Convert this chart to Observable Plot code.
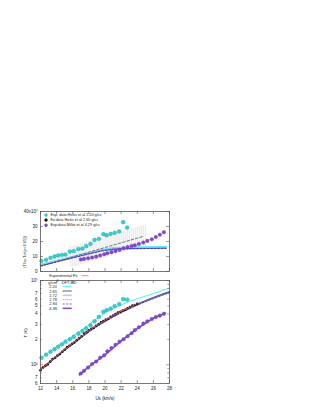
<!DOCTYPE html>
<html><head><meta charset="utf-8">
<script src="https://cdn.jsdelivr.net/npm/d3@7"></script>
<script src="https://cdn.jsdelivr.net/npm/@observablehq/plot@0.6"></script>
<style>
body{margin:0;background:#fff;}
#wrap{position:relative;width:314px;height:407px;overflow:hidden;}
#wrap svg{position:absolute;left:0;}
</style></head><body><div id="wrap"></div>
<script>
// ---------- data ----------
const xTicks = [12,14,16,18,20,22,24,26,28];
const topYTicks = [0,10,20,30,40];
const topYLabels = ["0","10","20","30","40x10³"];
const botYTicks = [60,70,80,90,100,200,300,400,500,600,700,800,900,1000];
const botYLabels = ["6","7","8","9","10²","2","3","4","5","6","7","8","9","10³"];
const botYMajor = [100,1000];

// Hicks et al 2.20 g/cc
const us220 = [12.12,12.7,13.24,13.74,14.19,14.65,15.1,15.64,16.13,16.7,17.2,17.67,18.2,18.7,19.24,19.8,20.2,20.7,21.2,21.76,22.26,22.75];
const dT220 = [7.1,7.8,9.1,10.0,10.7,11.1,11.3,13.3,13.6,14.9,15.3,16.9,18.4,21.1,21.8,24.9,24.2,25.1,25.8,26.7,32.9,29.3];
const T220  = [121,132,143,153,164,175,188,201,215,234,251,270,295,328,370,425,445,464,497,525,602,594];

// Hicks et al 2.65 g/cc
const us265 = [12.0,12.3,12.6,12.9,13.2,13.5,13.8,14.1,14.4,14.7,15.0,15.3,15.6,15.9,16.2,16.5,16.8,17.1,17.4,17.7,18.0,18.3,18.6,18.9,19.2,19.5,19.8,20.1,20.4,20.7,21.0,21.3,21.6,21.9,22.2,22.5,22.8,23.1,23.4,23.7,24.0];
const T265  = [86,93,97,101,109,117,121,129,134,143,151,162,168,177,184,196,207,218,234,243,257,268,275,291,303,320,330,343,352,371,385,399,418,426,440,450,469,484,503,513,528];

// Millot et al 4.29 g/cc
const us429 = [17.0,17.4,17.9,18.4,18.9,19.4,19.9,20.3,20.8,21.3,21.8,22.3,22.8,23.3,23.7,24.2,24.75,25.25,25.8,26.3,26.8,27.3];
const dT429 = [8.0,8.4,8.8,9.3,9.9,10.7,11.5,12.2,12.9,13.6,14.4,15.5,16.3,17.0,17.5,18.3,19.3,20.4,21.5,23.0,24.5,26.2];
const T429  = [78.8,84.8,92.9,102,109.5,121,129.8,144.7,158,173,188,201,218,237,257.5,279,307.5,327,350,368,383,402];

// top panel: error band (vertical bars) and dashed fit
const errUs  = [15.75,16,16.25,16.5,16.75,17,17.25,17.5,17.75,18,18.25,18.5,18.75,19,19.25,19.5,19.75,20,20.25,20.5,20.75,21,21.25,21.5,21.75,22,22.25,22.5,22.75,23,23.25,23.5,23.75,24,24.25,24.5,24.75,25];
const errLow = [2.4,2.8,3.1,3.5,3.9,4.3,4.7,5.1,5.5,5.9,6.3,6.7,7.1,7.4,7.8,8.2,8.6,9.0,9.4,9.8,10.2,10.6,11.0,11.3,11.7,12.1,12.5,12.9,13.3,13.7,14.1,14.5,14.9,15.3,15.6,16.0,16.4,16.8];
const errHigh= [16.4,16.8,17.1,17.5,17.9,18.3,18.7,19.1,19.5,19.9,20.3,20.7,21.1,21.4,21.8,22.2,22.6,23.0,23.4,23.8,24.2,24.6,25.0,25.3,25.7,26.1,26.5,26.9,27.3,27.7,28.1,28.5,28.9,29.3,29.6,30.0,30.4,30.8];
const fitTopUs = [12,24.8];
const fitTopV  = [3.5,23.5];

// top panel DFT-MD differences
const dftTopUs = [12,14,16,18,19.5,21,23,25,27.6];
const dTop220 = [4.5,7.2,9.8,12.4,14.3,15.6,16.0,16.2,16.3];
const dTop272 = [4.2,6.9,9.6,12.2,14.0,15.2,15.6,15.8,15.9];
const dTop278 = [3.9,6.6,9.3,11.9,13.8,15.0,15.3,15.5,15.6];
const dTop294 = [3.6,6.3,9.0,11.6,13.6,14.8,15.1,15.3,15.4];

// bottom panel DFT-MD curves
const dftUs   = [12,13,14,15,16,17,18,19,20,21,22,23,24,25,26,27,28];
const dft220  = [120,140,163,189,218,255,300,355,415,465,515,562,608,652,700,755,815];
const dft265  = [89,107,128,153,182,215,254,294,336,381,428,477,527,578,630,685,740];
const dft272  = [88,105,126,151,180,212,251,290,332,376,423,471,521,571,622,676,731];
const dft278  = [87,104,125,149,178,210,248,287,328,372,418,466,515,565,616,669,724];
const dft294  = [86,103,123,147,175,207,244,283,323,367,412,460,509,558,609,661,716];
const dft438Us = [16.8,18,20,22,24,26,27.5];
const dft438   = [76,95,131,192,268,357,410];
// experimental fit
const fitUs = [12,14,16,18,20,22,24];
const fitT  = [87,127,181,255,338,432,530];

// ---------- helpers ----------
const zip = (xs, ys) => xs.map((x,i) => ({x, y: ys[i]}));
const FONT = '"Liberation Sans", Arial, sans-serif';
const C = {cyan:"#4ff0f0", cyanDot:"#33d3d3", lav:"#c4c4ee", blue:"#5050ee", dblue:"#2a2aa6", purple:"#8447d0", red:"#ff5a5a", frame:"#555"};
const wrap = document.getElementById("wrap");

// ---------- top panel ----------
const topH = 80, topFrameH = 60, frameW = 129;
const topPlot = Plot.plot({
  width: 314, height: topH, marginTop: 11, marginBottom: 9, marginLeft: 40, marginRight: 145,
  style: {fontFamily: FONT, fontSize: "4.5px", color: "#222", background: "transparent", overflow: "visible"},
  x: {domain: [12, 28], axis: null},
  y: {domain: [0, 40], ticks: topYTicks, tickSize: 0, tickPadding: 3, tickFormat: d => topYLabels[topYTicks.indexOf(d)], label: null},
  marks: [
    Plot.ruleX(errUs.map((u,i) => ({u, lo: errLow[i], hi: errHigh[i]})), {x: "u", y1: "lo", y2: "hi", stroke: "#c8c8c8", strokeWidth: 0.5}),
    Plot.line(zip(dftTopUs, dTop220), {x: "x", y: "y", stroke: C.cyan, strokeWidth: 2}),
    Plot.line(zip(dftTopUs, dTop272), {x: "x", y: "y", stroke: C.lav, strokeWidth: 1.6}),
    Plot.line(zip(dftTopUs, dTop278), {x: "x", y: "y", stroke: C.blue, strokeWidth: 0.8, strokeDasharray: "1,1"}),
    Plot.line(zip(dftTopUs, dTop294), {x: "x", y: "y", stroke: C.dblue, strokeWidth: 0.8, strokeDasharray: "2,1.5"}),
    Plot.line(zip(fitTopUs, fitTopV), {x: "x", y: "y", stroke: "#555", strokeWidth: 0.8, strokeDasharray: "2.5,2"}),
    Plot.dot(zip(us429, dT429), {x: "x", y: "y", r: 1.8, fill: C.purple, stroke: "#5a2a9a", strokeWidth: 0.3}),
    Plot.dot(zip(us220, dT220), {x: "x", y: "y", r: 1.9, fill: C.cyanDot, stroke: "#179a9a", strokeWidth: 0.4}),
    Plot.tickX(xTicks, {x: d => d, insetTop: topFrameH - 3, stroke: C.frame, strokeWidth: 0.6}),
    Plot.tickX(xTicks, {x: d => d, insetBottom: topFrameH - 3, stroke: C.frame, strokeWidth: 0.6}),
    Plot.tickY(topYTicks, {y: d => d, insetRight: frameW - 3, stroke: C.frame, strokeWidth: 0.6}),
    Plot.tickY(topYTicks, {y: d => d, insetLeft: frameW - 3, stroke: C.frame, strokeWidth: 0.6}),
    Plot.frame({stroke: C.frame, strokeWidth: 0.8})
  ]
});
topPlot.style.top = "200px";
wrap.appendChild(topPlot);

// ---------- bottom panel ----------
const botH = 132, botFrameH = 103;
const botPlot = Plot.plot({
  width: 314, height: botH, marginTop: 5, marginBottom: 24, marginLeft: 40, marginRight: 145,
  style: {fontFamily: FONT, fontSize: "4.5px", color: "#222", background: "transparent", overflow: "visible"},
  x: {domain: [12, 28], ticks: xTicks, tickSize: 0, tickPadding: 3.5, label: null},
  y: {type: "log", domain: [60, 1000], ticks: botYTicks, tickSize: 0, tickPadding: 3, tickFormat: d => botYLabels[botYTicks.indexOf(d)], label: null},
  marks: [
    Plot.line(zip(dftUs, dft272), {x: "x", y: "y", stroke: C.lav, strokeWidth: 1.6}),
    Plot.line(zip(dftUs, dft220), {x: "x", y: "y", stroke: C.cyan, strokeWidth: 1}),
    Plot.line(zip(dftUs, dft265), {x: "x", y: "y", stroke: "#333", strokeWidth: 0.8}),
    Plot.line(zip(dftUs, dft278), {x: "x", y: "y", stroke: C.blue, strokeWidth: 0.7, strokeDasharray: "1,1"}),
    Plot.line(zip(dftUs, dft294), {x: "x", y: "y", stroke: C.dblue, strokeWidth: 0.7, strokeDasharray: "2,1.5"}),
    Plot.line(zip(dft438Us, dft438), {x: "x", y: "y", stroke: C.purple, strokeWidth: 1.5}),
    Plot.dot(zip(us265, T265), {x: "x", y: "y", r: 1.3, fill: "#111"}),
    Plot.line(zip(fitUs, fitT), {x: "x", y: "y", stroke: C.red, strokeWidth: 0.8}),
    Plot.dot(zip(us429, T429), {x: "x", y: "y", r: 1.8, fill: C.purple, stroke: "#5a2a9a", strokeWidth: 0.3}),
    Plot.dot(zip(us220, T220), {x: "x", y: "y", r: 1.9, fill: C.cyanDot, stroke: "#179a9a", strokeWidth: 0.4}),
    Plot.tickX(xTicks, {x: d => d, insetTop: botFrameH - 3, stroke: C.frame, strokeWidth: 0.6}),
    Plot.tickX(xTicks, {x: d => d, insetBottom: botFrameH - 3, stroke: C.frame, strokeWidth: 0.6}),
    Plot.tickY(botYTicks, {y: d => d, insetRight: d => 0, stroke: "none"}),
    Plot.tickY(botYTicks.filter(d => !botYMajor.includes(d)), {y: d => d, insetRight: frameW - 1.8, stroke: C.frame, strokeWidth: 0.5}),
    Plot.tickY(botYTicks.filter(d => !botYMajor.includes(d)), {y: d => d, insetLeft: frameW - 1.8, stroke: C.frame, strokeWidth: 0.5}),
    Plot.tickY(botYMajor, {y: d => d, insetRight: frameW - 3, stroke: C.frame, strokeWidth: 0.6}),
    Plot.tickY(botYMajor, {y: d => d, insetLeft: frameW - 3, stroke: C.frame, strokeWidth: 0.6}),
    Plot.frame({stroke: C.frame, strokeWidth: 0.8})
  ]
});
botPlot.style.top = "275px";
wrap.appendChild(botPlot);

// ---------- overlay: legends & titles ----------
const ov = d3.select(wrap).append("svg")
  .attr("width", 314).attr("height", 407)
  .style("top", "0px").style("pointer-events", "none")
  .style("font-family", FONT);

function txt(x, y, s, size, anchor) {
  return ov.append("text").attr("x", x).attr("y", y).attr("font-size", size)
    .attr("dominant-baseline", "central").attr("text-anchor", anchor || "start")
    .attr("fill", "#222").text(s);
}
// top legend
const topLeg = [
  ["Exp. data Hicks et al 2.20 g/cc", C.cyanDot, "#179a9a"],
  ["Ex.data Hicks et al 2.65 g/cc", "#111", "#111"],
  ["Exp.data Millot et al 4.29 g/cc", C.purple, "#5a2a9a"]
];
topLeg.forEach((d, i) => {
  const y = 215 + i * 5.1;
  ov.append("circle").attr("cx", 46).attr("cy", y).attr("r", 1.5).attr("fill", d[1]).attr("stroke", d[2]).attr("stroke-width", 0.3);
  txt(50.5, y, d[0], 3.8);
});
// bottom legend
txt(49.3, 275.7, "Experimental Fit", 3.9);
ov.append("line").attr("x1", 81.5).attr("x2", 88.5).attr("y1", 275.7).attr("y2", 275.7).attr("stroke", C.red).attr("stroke-width", 0.8);
const gt = txt(48.3, 282.6, "g/cm", 3.9);
gt.append("tspan").attr("dy", -1.2).attr("font-size", 2.8).text("3");
txt(61.8, 282.3, "DFT-MD", 3.9);
const botLeg = [
  ["2.20", C.cyan, 1, null],
  ["2.65", "#333", 0.8, null],
  ["2.72", C.lav, 1.6, null],
  ["2.78", C.blue, 0.7, "1,1"],
  ["2.94", C.dblue, 0.7, "2,1.5"],
  ["4.38", C.purple, 1.5, null]
];
botLeg.forEach((d, i) => {
  const y = 286.7 + i * 4.32;
  txt(49.3, y, d[0], 3.9);
  const l = ov.append("line").attr("x1", 62.7).attr("x2", 71.7).attr("y1", y).attr("y2", y)
    .attr("stroke", d[1]).attr("stroke-width", d[2]);
  if (d[3]) l.attr("stroke-dasharray", d[3]);
});
// axis titles
const yt = ov.append("text").attr("transform", "translate(24,252) rotate(-90)")
  .attr("text-anchor", "middle").attr("dominant-baseline", "central").attr("font-size", 4).attr("fill", "#222");
yt.append("tspan").text("(T");
yt.append("tspan").attr("font-size", 2.8).attr("dy", 1).text("Exp");
yt.append("tspan").attr("dy", -1).text("-T");
yt.append("tspan").attr("font-size", 2.8).attr("dy", 1).text("sh");
yt.append("tspan").attr("dy", -1).text("(ρ=2.65))");
ov.append("text").attr("transform", "translate(25,333) rotate(-90)")
  .attr("text-anchor", "middle").attr("dominant-baseline", "central").attr("font-size", 4.2).attr("fill", "#222").text("T (K)");
txt(105, 398, "Us (km/s)", 4.5, "middle");
</script></body></html>
